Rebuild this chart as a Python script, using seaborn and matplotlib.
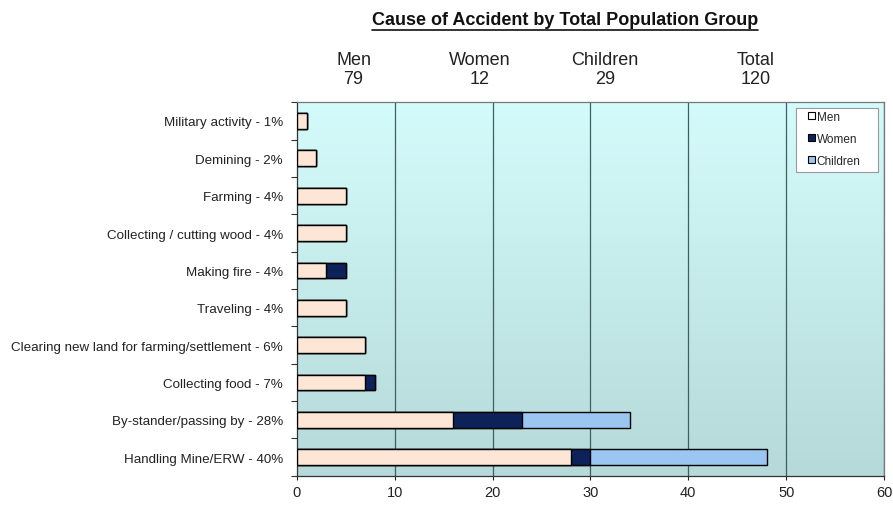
import numpy as np
import pandas as pd
import matplotlib
matplotlib.use("Agg")
import matplotlib.pyplot as plt
from matplotlib.colors import LinearSegmentedColormap
from matplotlib.patches import Patch, Rectangle
import seaborn as sns

causes = ["Military activity - 1%", "Demining - 2%", "Farming - 4%",
          "Collecting / cutting wood - 4%", "Making fire - 4%", "Traveling - 4%",
          "Clearing new land for farming/settlement - 6%", "Collecting food - 7%",
          "By-stander/passing by - 28%", "Handling Mine/ERW - 40%"]
men = [1, 2, 5, 5, 3, 5, 7, 7, 16, 28]
women = [0, 0, 0, 0, 2, 0, 0, 1, 7, 2]
children = [0, 0, 0, 0, 0, 0, 0, 0, 11, 18]
group_names = ["Men", "Women", "Children", "Total"]
group_totals = [79, 12, 29, 120]
colors = {"Men": "#fde6d6", "Women": "#0c2259", "Children": "#9cc6f2"}

sns.set_theme(style="white")
plt.rcParams['font.family'] = ['Liberation Sans', 'DejaVu Sans']

df = pd.DataFrame({"cause": causes, "Men": men, "Women": women, "Children": children})
df["mw"] = df["Men"] + df["Women"]
df["all"] = df["mw"] + df["Children"]

fig = plt.figure(figsize=(8.93, 5.06), dpi=100)
ax = fig.add_axes([0.3323, 0.0579, 0.6577, 0.7379])

# gradient background
cmap = LinearSegmentedColormap.from_list("bg", ["#d4fbfb", "#b6d9d9"])
ax.imshow(np.linspace(0, 1, 100).reshape(-1, 1), cmap=cmap, aspect="auto",
          extent=[0, 60, 9.5, -0.5], zorder=0)

# stacked bars: draw cumulative totals back to front
for col, c in [("all", colors["Children"]), ("mw", colors["Women"]), ("Men", colors["Men"])]:
    sns.barplot(data=df, x=col, y="cause", color=c, orient="h", width=0.42,
                edgecolor="black", linewidth=1.0, saturation=1, ax=ax, zorder=3)

ax.set_xlim(0, 60)
ax.set_ylim(9.5, -0.5)
ax.set_xticks(range(0, 61, 10))
ax.set_yticks(np.arange(-0.5, 9.6, 1), minor=True)
for x in range(10, 61, 10):
    ax.axvline(x, color="#3f5f60", lw=0.9, zorder=1)
ax.set_xlabel("")
ax.set_ylabel("")
ax.tick_params(axis="x", labelsize=10.5, length=3, bottom=True, width=0.8, pad=4, colors="#222222")
ax.tick_params(axis="y", which="major", labelsize=9.6, length=0, pad=10, colors="#222222")
ax.tick_params(axis="y", which="minor", length=4, left=True, width=0.8, color="#333333")
for s in ["left", "bottom"]:
    ax.spines[s].set_color("#333333")
    ax.spines[s].set_linewidth(0.9)
for s in ["top", "right"]:
    ax.spines[s].set_color("#777777")
    ax.spines[s].set_linewidth(0.9)

# legend box drawn by hand, Excel-like padding
ax.add_patch(Rectangle((0.850, 0.8133), 0.1398, 0.1714, transform=ax.transAxes,
                       facecolor="white", edgecolor="#999999", lw=0.8, zorder=5))
handles = [Patch(facecolor=colors[k] if k != "Men" else "white", edgecolor="black",
                 linewidth=0.8, label=k) for k in ["Men", "Women", "Children"]]
leg = ax.legend(handles=handles, loc="upper left", bbox_to_anchor=(0.870, 0.9780),
                fontsize=8.5, frameon=False, handlelength=0.6, handleheight=0.6,
                handletextpad=0.15, labelspacing=0.85, borderpad=0, borderaxespad=0)
leg.set_zorder(6)

# title with underline
t = fig.text(0.633, 0.96, "Cause of Accident by Total Population Group",
             ha="center", va="center", fontsize=13, fontweight="bold", color="#111111")
fig.canvas.draw()
bb = t.get_window_extent().transformed(fig.transFigure.inverted())
fig.add_artist(plt.Line2D([bb.x0, bb.x1], [bb.y0 - 0.004, bb.y0 - 0.004],
                          transform=fig.transFigure, color="#111111", lw=1.2))

# group header totals
x_pos = [5.8, 18.7, 31.5, 46.9]
for name, tot, xp in zip(group_names, group_totals, x_pos):
    ax.text(xp, 1.089, f"{name}\n{tot}", transform=ax.get_xaxis_transform(),
            ha="center", va="center", fontsize=13, color="#222222", linespacing=1.1)

fig.savefig("out.png", dpi=100, facecolor="white")
